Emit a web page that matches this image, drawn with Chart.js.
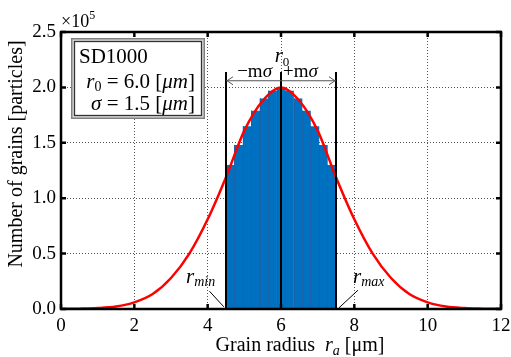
<!DOCTYPE html>
<html>
<head>
<meta charset="utf-8">
<script src="https://cdn.jsdelivr.net/npm/chart.js@4.4.1/dist/chart.umd.min.js"></script>
<style>
  html, body { margin: 0; padding: 0; background: #fff; }
  #wrap { width: 511px; height: 357px; }
</style>
</head>
<body>
<div id="wrap"><canvas id="grainChart"></canvas></div>
<script>
// Grain radius distribution SD1000 (values in units of 1e5 particles)

const curveX = [0, 0.5, 1, 1.5, 2, 2.5, 3, 3.5, 4, 4.5, 5, 5.5, 6,
                6.5, 7, 7.5, 8, 8.5, 9, 9.5, 10, 10.5, 11, 11.5, 12];
const curveY = [0.001, 0.003, 0.008, 0.022, 0.060, 0.135, 0.28, 0.50, 0.81, 1.19, 1.61, 1.88, 2.00,
                1.88, 1.61, 1.19, 0.81, 0.50, 0.28, 0.135, 0.060, 0.022, 0.008, 0.003, 0.001];

const barX = [4.6154, 4.8462, 5.0769, 5.3077, 5.5385, 5.7692, 6.0000,
              6.2308, 6.4615, 6.6923, 6.9231, 7.1538, 7.3846];
const barY = [1.30, 1.48, 1.65, 1.79, 1.90, 1.97, 2.00,
              1.97, 1.90, 1.79, 1.65, 1.48, 1.30];

const markerX = [4.5, 6.0, 7.5];   // r_min, r0, r_max
const markerTop = 2.14;
const arrowY = 2.06;

const xTicks = [0, 2, 4, 6, 8, 10, 12];
const yTicks = [0, 0.5, 1.0, 1.5, 2.0, 2.5];

const SERIF = '"Liberation Serif", "Times New Roman", serif';

function drawRuns(ctx, runs, x, y, align) {
    let w = 0;
    runs.forEach(r => { ctx.font = r.font; w += ctx.measureText(r.t).width; });
    let cx = align === 'right' ? x - w : (align === 'center' ? x - w / 2 : x);
    ctx.textAlign = 'left';
    ctx.textBaseline = 'alphabetic';
    runs.forEach(r => {
        ctx.font = r.font;
        ctx.fillText(r.t, cx, y + (r.dy || 0));
        cx += ctx.measureText(r.t).width;
    });
}

const overlay = {
    id: 'overlay',
    // thin separators between histogram bars, drawn before the curve
    afterDatasetDraw(chart, args) {
        if (args.meta.type !== 'bar') return;
        const ctx = chart.ctx;
        ctx.save();
        ctx.strokeStyle = '#1762aa';
        ctx.lineWidth = 1;
        ctx.beginPath();
        args.meta.data.forEach((bar, i) => {
            if (i === 0) return;
            const px = Math.round(bar.x - bar.width / 2) + 0.5;
            ctx.moveTo(px, bar.y);
            ctx.lineTo(px, bar.base);
        });
        ctx.stroke();
        ctx.restore();
    },
    afterDraw(chart) {
        const { ctx, chartArea: a, scales: { x, y } } = chart;
        ctx.save();
        ctx.fillStyle = '#000';
        ctx.strokeStyle = '#000';

        // inward tick marks
        ctx.lineWidth = 2.5;
        ctx.beginPath();
        xTicks.forEach(v => {
            const px = x.getPixelForValue(v);
            ctx.moveTo(px, a.bottom); ctx.lineTo(px, a.bottom - 5);
            ctx.moveTo(px, a.top); ctx.lineTo(px, a.top + 5);
        });
        yTicks.forEach(v => {
            const py = y.getPixelForValue(v);
            ctx.moveTo(a.left, py); ctx.lineTo(a.left + 5, py);
            ctx.moveTo(a.right, py); ctx.lineTo(a.right - 5, py);
        });
        ctx.stroke();

        // frame
        ctx.lineWidth = 2.5;
        ctx.strokeRect(a.left, a.top, a.right - a.left, a.bottom - a.top);

        // double arrow  -m sigma / +m sigma
        const xl = x.getPixelForValue(markerX[0]);
        const xc = x.getPixelForValue(markerX[1]);
        const xr = x.getPixelForValue(markerX[2]);
        const ya = y.getPixelForValue(arrowY);
        ctx.strokeStyle = '#555';
        ctx.lineWidth = 1;
        ctx.beginPath();
        ctx.moveTo(xl, ya); ctx.lineTo(xr, ya);
        ctx.moveTo(xl + 7, ya - 4); ctx.lineTo(xl + 1, ya); ctx.lineTo(xl + 7, ya + 4);
        ctx.moveTo(xr - 7, ya - 4); ctx.lineTo(xr - 1, ya); ctx.lineTo(xr - 7, ya + 4);
        ctx.stroke();

        drawRuns(ctx, [
            { t: 'r', font: 'italic 21px ' + SERIF },
            { t: '0', font: '13px ' + SERIF, dy: 4 }
        ], xc + 1, ya - 19, 'center');
        drawRuns(ctx, [
            { t: '\u2212m', font: '19px ' + SERIF },
            { t: '\u03c3', font: 'italic 19px ' + SERIF }
        ], xc - 9, ya - 4, 'right');
        drawRuns(ctx, [
            { t: '+m', font: '19px ' + SERIF },
            { t: '\u03c3', font: 'italic 19px ' + SERIF }
        ], xc + 2, ya - 4, 'left');

        // r_min / r_max labels with leaders
        ctx.strokeStyle = '#000';
        ctx.lineWidth = 1;
        ctx.beginPath();
        ctx.moveTo(x.getPixelForValue(4.05), y.getPixelForValue(0.16));
        ctx.lineTo(x.getPixelForValue(4.44), y.getPixelForValue(0.02));
        ctx.moveTo(x.getPixelForValue(8.10), y.getPixelForValue(0.17));
        ctx.lineTo(x.getPixelForValue(7.58), y.getPixelForValue(0.01));
        ctx.stroke();
        drawRuns(ctx, [
            { t: 'r', font: 'italic 21px ' + SERIF },
            { t: 'min', font: 'italic 14px ' + SERIF, dy: 3 }
        ], 186, 283, 'left');
        drawRuns(ctx, [
            { t: 'r', font: 'italic 21px ' + SERIF },
            { t: 'max', font: 'italic 14px ' + SERIF, dy: 3 }
        ], 353, 283, 'left');

        // info box
        ctx.fillStyle = '#dcdcdc';
        ctx.fillRect(71, 38, 134, 81);
        ctx.strokeStyle = '#808080';
        ctx.lineWidth = 1.5;
        ctx.strokeRect(71.75, 38.75, 132.5, 79.5);
        ctx.fillStyle = '#fff';
        ctx.fillRect(74.5, 41.5, 127, 74);
        ctx.strokeStyle = '#333';
        ctx.lineWidth = 1.3;
        ctx.strokeRect(74.5, 41.5, 127, 74);
        ctx.fillStyle = '#000';
        drawRuns(ctx, [{ t: 'SD1000', font: '21px ' + SERIF }], 79, 63, 'left');
        drawRuns(ctx, [
            { t: 'r', font: 'italic 21px ' + SERIF },
            { t: '0', font: '14px ' + SERIF, dy: 3 },
            { t: ' = 6.0 [', font: '21px ' + SERIF },
            { t: '\u03bcm', font: 'italic 21px ' + SERIF },
            { t: ']', font: '21px ' + SERIF }
        ], 195, 88, 'right');
        drawRuns(ctx, [
            { t: '\u03c3', font: 'italic 21px ' + SERIF },
            { t: ' = 1.5 [', font: '21px ' + SERIF },
            { t: '\u03bcm', font: 'italic 21px ' + SERIF },
            { t: ']', font: '21px ' + SERIF }
        ], 195, 110, 'right');

        // exponent
        drawRuns(ctx, [
            { t: '\u00d710', font: '18px ' + SERIF },
            { t: '5', font: '12px ' + SERIF, dy: -8 }
        ], a.left, 27, 'left');

        // axis titles
        drawRuns(ctx, [
            { t: 'Grain radius  ', font: '20px ' + SERIF },
            { t: 'r', font: 'italic 20px ' + SERIF },
            { t: 'a', font: 'italic 14px ' + SERIF, dy: 4 },
            { t: ' [\u03bcm]', font: '20px ' + SERIF }
        ], 300, 351, 'center');

        ctx.save();
        ctx.translate(17, 154);
        ctx.rotate(-Math.PI / 2);
        ctx.font = '20px ' + SERIF;
        ctx.textAlign = 'center';
        ctx.textBaseline = 'middle';
        ctx.fillText('Number of grains [particles]', 0, 0);
        ctx.restore();

        ctx.restore();
    }
};

const markerSets = markerX.map(v => ({
    type: 'line',
    data: [{ x: v, y: 0 }, { x: v, y: markerTop }],
    borderColor: '#000',
    borderWidth: 2,
    pointRadius: 0,
    order: 0
}));

new Chart(document.getElementById('grainChart'), {
    type: 'bar',
    data: {
        datasets: [
            ...markerSets,
            {
                type: 'line',
                data: curveX.map((v, i) => ({ x: v, y: curveY[i] })),
                borderColor: '#ff0000',
                borderWidth: 2.5,
                pointRadius: 0,
                cubicInterpolationMode: 'monotone',
                order: 1
            },
            {
                type: 'bar',
                data: barX.map((v, i) => ({ x: v, y: barY[i] })),
                backgroundColor: '#0070c0',
                borderWidth: 0,
                barPercentage: 1.04,
                categoryPercentage: 1,
                order: 2
            }
        ]
    },
    options: {
        responsive: true,
        maintainAspectRatio: false,
        animation: false,
        layout: { padding: { top: 32, right: 10, left: 0, bottom: 0 } },
        plugins: {
            legend: { display: false },
            tooltip: { enabled: false }
        },
        scales: {
            x: {
                type: 'linear',
                min: 0,
                max: 12,
                offset: false,
                afterBuildTicks: s => { s.ticks = xTicks.map(v => ({ value: v })); },
                afterFit: s => { s.height = 48; s.paddingLeft = 0; s.paddingRight = 0; },
                grid: { color: '#555', lineWidth: 1, drawTicks: false, offset: false },
                border: { display: false, dash: [1, 2] },
                ticks: { color: '#000', padding: 6, font: { family: SERIF, size: 19 } }
            },
            y: {
                type: 'linear',
                min: 0,
                max: 2.5,
                afterBuildTicks: s => { s.ticks = yTicks.map(v => ({ value: v })); },
                afterFit: s => { s.width = 61; s.paddingTop = 0; s.paddingBottom = 0; },
                grid: { color: '#555', lineWidth: 1, drawTicks: false },
                border: { display: false, dash: [1, 2] },
                ticks: {
                    color: '#000',
                    padding: 5,
                    font: { family: SERIF, size: 19 },
                    callback: v => v.toFixed(1)
                }
            }
        }
    },
    plugins: [overlay]
});
</script>
</body>
</html>
